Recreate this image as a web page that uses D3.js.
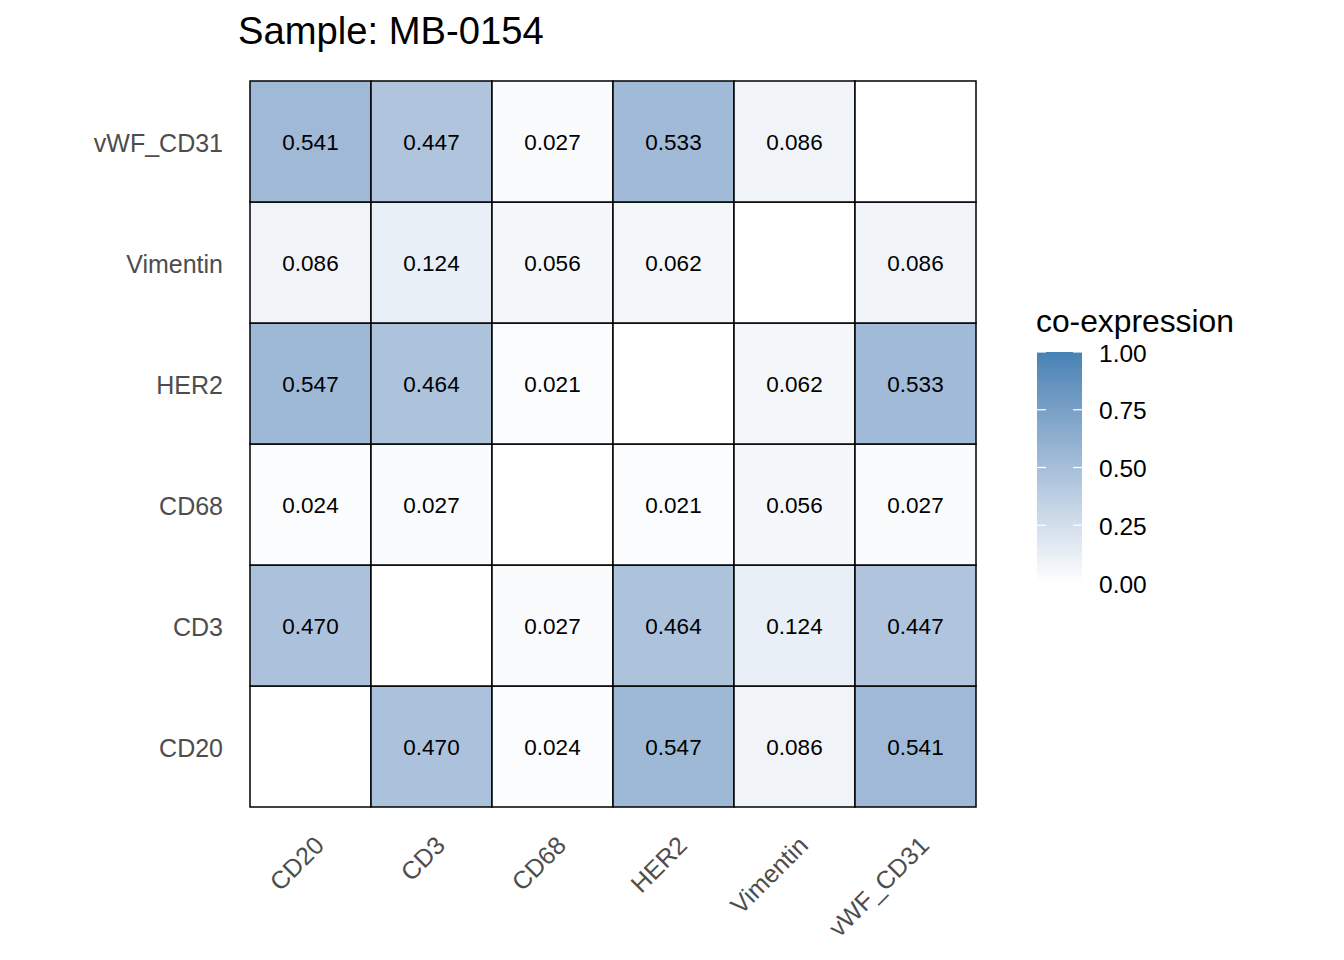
<!DOCTYPE html>
<html><head><meta charset="utf-8">
<script src="https://cdn.jsdelivr.net/npm/d3@7"></script>
<style>body{margin:0;background:#fff;font-family:"Liberation Sans",Arial,sans-serif;}</style>
</head><body>
<svg id="chart" width="1344" height="960"></svg>
<script>
const markers = ["CD20","CD3","CD68","HER2","Vimentin","vWF_CD31"];
// pairwise co-expression values (upper triangle, symmetric)
const pairs = [
  ["CD20","CD3",0.470],["CD20","CD68",0.024],["CD20","HER2",0.547],["CD20","Vimentin",0.086],["CD20","vWF_CD31",0.541],
  ["CD3","CD68",0.027],["CD3","HER2",0.464],["CD3","Vimentin",0.124],["CD3","vWF_CD31",0.447],
  ["CD68","HER2",0.021],["CD68","Vimentin",0.056],["CD68","vWF_CD31",0.027],
  ["HER2","Vimentin",0.062],["HER2","vWF_CD31",0.533],
  ["Vimentin","vWF_CD31",0.086]
];
const legendTicks = [0,0.25,0.5,0.75,1];
const chartTitle = "Sample: MB-0154";
const legendTitle = "co-expression";

const cells = [];
markers.forEach(a => markers.forEach(b => {
  let v = null;
  pairs.forEach(p => { if ((p[0]===a&&p[1]===b)||(p[0]===b&&p[1]===a)) v = p[2]; });
  cells.push({x:a, y:b, v:v});
}));

const svg = d3.select("#chart");
const pLeft=250, pRight=976, pTop=81, pBottom=807;
const x = d3.scaleBand().domain(markers).range([pLeft,pRight]);
const y = d3.scaleBand().domain(markers).range([pBottom,pTop]);
const color = d3.scaleLinear().domain([0,1]).range(["white","steelblue"]).interpolate(d3.interpolateLab);

svg.append("text").attr("x",238).attr("y",44).attr("font-size",38.2).attr("fill","#000").text(chartTitle);

const g = svg.append("g");
g.selectAll("rect").data(cells).join("rect")
  .attr("x",d=>x(d.x)).attr("y",d=>y(d.y))
  .attr("width",x.bandwidth()).attr("height",y.bandwidth())
  .attr("fill",d=>d.v==null?"white":color(d.v))
  .attr("stroke","#000").attr("stroke-width",1.5);
g.selectAll("text.val").data(cells.filter(d=>d.v!=null)).join("text").attr("class","val")
  .attr("x",d=>x(d.x)+x.bandwidth()/2).attr("y",d=>y(d.y)+y.bandwidth()/2+1)
  .attr("text-anchor","middle").attr("dominant-baseline","central")
  .attr("font-size",22.5).attr("fill","#000").text(d=>d.v.toFixed(3));

// y axis labels
svg.append("g").selectAll("text").data(markers).join("text")
  .attr("x",223).attr("y",d=>y(d)+y.bandwidth()/2+1)
  .attr("text-anchor","end").attr("dominant-baseline","central")
  .attr("font-size",25).attr("fill","#4d4d4d").text(d=>d);

// x axis labels rotated
svg.append("g").selectAll("text").data(markers).join("text")
  .attr("transform",d=>`translate(${x(d)+x.bandwidth()/2+2},${834}) rotate(-45)`)
  .attr("text-anchor","end").attr("dominant-baseline","hanging")
  .attr("font-size",25).attr("fill","#4d4d4d").text(d=>d);

// legend
const lx=1037, lw=45, ly0=352, ly1=583;
const ls = d3.scaleLinear().domain([0,1]).range([ly1,ly0]);
const defs = svg.append("defs");
const grad = defs.append("linearGradient").attr("id","lg").attr("x1",0).attr("y1",1).attr("x2",0).attr("y2",0);
d3.range(0,1.0001,0.05).forEach(t=>grad.append("stop").attr("offset",t).attr("stop-color",color(t)));
svg.append("text").attr("x",1036).attr("y",332).attr("font-size",31.8).attr("fill","#000").text(legendTitle);
svg.append("rect").attr("x",lx).attr("y",ly0).attr("width",lw).attr("height",ly1-ly0).attr("fill","url(#lg)");
const lt = svg.append("g");
legendTicks.forEach(t=>{
  lt.append("line").attr("x1",lx).attr("x2",lx+9).attr("y1",ls(t)).attr("y2",ls(t)).attr("stroke","white").attr("stroke-width",1.2);
  lt.append("line").attr("x1",lx+lw-9).attr("x2",lx+lw).attr("y1",ls(t)).attr("y2",ls(t)).attr("stroke","white").attr("stroke-width",1.2);
  lt.append("text").attr("x",1099).attr("y",ls(t)+1).attr("dominant-baseline","central")
    .attr("font-size",24.5).attr("fill","#000").text(t.toFixed(2));
});
</script>
</body></html>
